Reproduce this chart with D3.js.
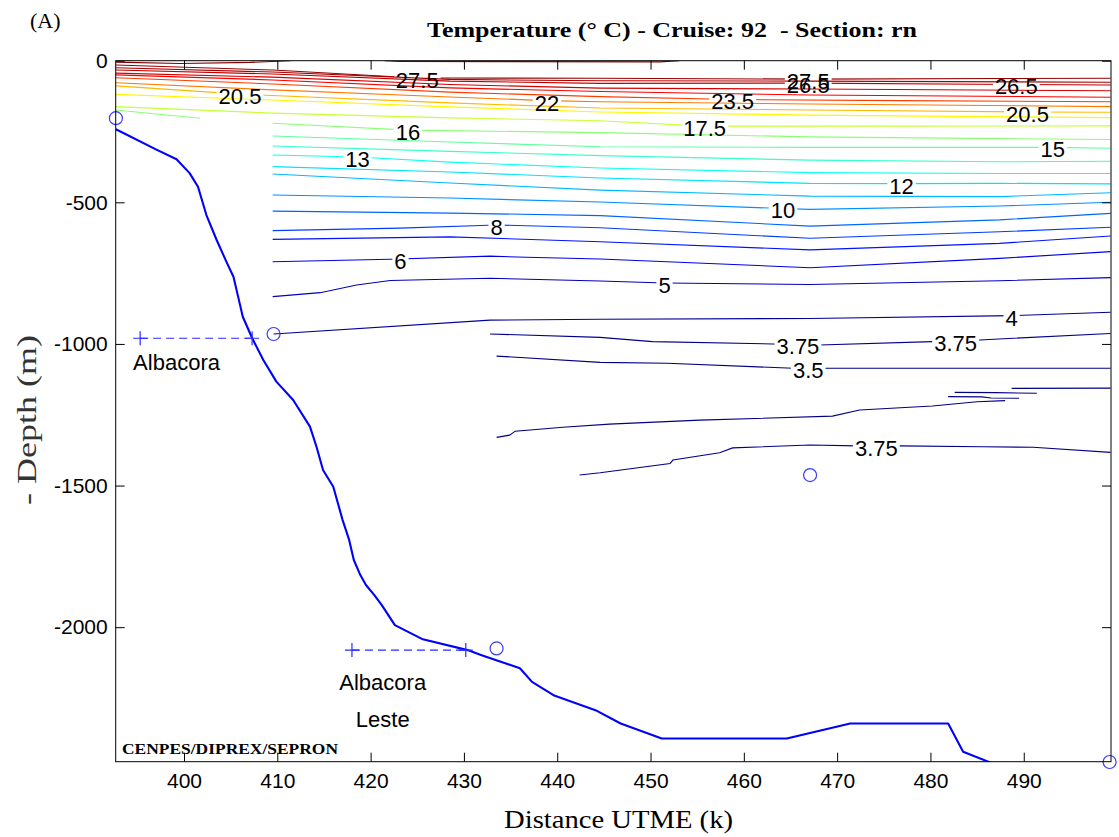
<!DOCTYPE html>
<html>
<head>
<meta charset="utf-8">
<script src="https://cdn.jsdelivr.net/npm/d3@7"></script>
<style>
  body { margin: 0; background: #fff; }
  svg { display: block; }
  text { white-space: pre; }
</style>
</head>
<body>
<svg id="chart" width="1119" height="837"></svg>
<script>
// ---- axis values ----
const xDomain = [392.68, 499.35];          // distance UTME (km)
const yDomain = [0, -2475];                // depth (m)
const xTicks = [400, 410, 420, 430, 440, 450, 460, 470, 480, 490];
const yTicks = [0, -500, -1000, -1500, -2000];
const tempRange = [3.5, 28];               // colour limits (deg C)

// ---- isotherms: t = temperature, pts = [km, depth], at = label positions (km) ----
const surfaceLines = [
  { t: 28,   pts: [[392.7, -5], [399.6, -10], [407.1, -6], [411.4, 0]] },
  { t: 28,   pts: [[421.5, 0], [423.1, -3], [451.0, -4], [453.1, 0]] },
  { t: 27.5, pts: [[392.7, -15], [409.5, -33], [425.0, -61], [444.6, -62], [466.9, -65], [487.4, -63], [499.3, -62]], at: [425.0, 466.9] },
  { t: 27,   pts: [[392.7, -25], [409.5, -40], [428.5, -66], [444.6, -71], [467.1, -72], [499.3, -76]] },
  { t: 26.5, pts: [[392.7, -33], [409.5, -47], [428.5, -72], [444.6, -80], [466.9, -79], [489.2, -84], [499.3, -86]], at: [466.9, 489.2] },
  { t: 26,   pts: [[392.7, -44], [409.5, -58], [428.5, -84], [444.6, -97], [467.1, -100], [499.3, -106]] },
  { t: 25,   pts: [[392.7, -50], [409.5, -68], [428.5, -96], [444.6, -109], [467.1, -121], [499.3, -129]] },
  { t: 23.5, pts: [[392.7, -60], [409.5, -82], [428.5, -111], [444.6, -127], [458.8, -137], [476.7, -141], [499.3, -145]], at: [458.8] },
  { t: 22,   pts: [[392.7, -78], [409.5, -103], [428.5, -128], [438.9, -141], [444.6, -145], [467.1, -153], [499.3, -162]], at: [438.9] },
  { t: 20.5, pts: [[392.7, -89], [406.0, -118], [428.5, -149], [444.6, -167], [467.1, -174], [490.4, -181], [499.3, -182]], at: [406.0, 490.4] },
  { t: 19,   pts: [[392.7, -119], [409.5, -139], [428.5, -163], [444.6, -181], [467.1, -192], [499.3, -201]] },
  { t: 17.5, pts: [[392.7, -162], [409.5, -185], [428.5, -202], [444.6, -212], [455.8, -231], [476.7, -231], [499.3, -230]], at: [455.8] },
  { t: 16,   pts: [[392.7, -174], [401.7, -203]] }
];

const thermoclineLines = [
  { t: 16, pts: [[409.5, -221], [424.0, -245], [444.6, -254], [467.1, -269], [487.4, -275], [499.3, -278]], at: [424.0] },
  { t: 15, pts: [[409.5, -266], [428.5, -287], [444.6, -304], [467.1, -306], [493.1, -306], [499.3, -309]], at: [493.1] },
  { t: 14, pts: [[409.5, -301], [428.5, -320], [444.6, -335], [467.1, -351], [487.4, -357], [499.3, -355]] },
  { t: 13, pts: [[409.5, -333], [418.6, -340], [428.5, -358], [444.6, -379], [467.1, -395], [487.4, -398], [499.3, -398]], at: [418.6] },
  { t: 12, pts: [[409.5, -374], [428.5, -393], [444.6, -414], [467.1, -433], [476.9, -434], [487.4, -433], [499.3, -435]], at: [476.9] },
  { t: 11, pts: [[409.5, -400], [428.5, -432], [444.6, -457], [467.1, -478], [487.4, -480], [499.3, -466]] },
  { t: 10, pts: [[409.5, -474], [428.5, -485], [444.6, -499], [464.2, -522], [467.1, -525], [487.4, -513], [499.3, -500]], at: [464.2] },
  { t: 9,  pts: [[409.5, -531], [428.5, -538], [444.6, -547], [467.1, -584], [487.4, -562], [499.3, -539]] },
  { t: 8,  pts: [[409.5, -600], [423.1, -591], [433.5, -580], [444.6, -590], [467.1, -627], [487.4, -604], [499.3, -588]], at: [433.5] },
  { t: 7,  pts: [[409.5, -631], [428.5, -622], [444.6, -639], [467.1, -668], [487.4, -645], [499.3, -619]] },
  { t: 6,  pts: [[409.5, -710], [422.1, -701], [432.8, -690], [436.7, -694], [444.6, -700], [467.1, -731], [487.4, -698], [499.3, -674]], at: [423.2] },
  { t: 5,  pts: [[409.5, -833], [414.6, -819], [418.5, -792], [422.1, -776], [432.8, -768], [444.6, -778], [451.5, -785], [467.1, -790], [487.4, -777], [499.3, -766]], at: [451.5] },
  { t: 4,  pts: [[409.6, -965], [432.8, -916], [444.6, -913], [467.1, -910], [488.7, -900], [499.3, -888]], at: [488.7] }
];

const deepLines = [
  { t: 3.75, pts: [[432.8, -965], [444.6, -977], [450.2, -992], [463.1, -1000], [468.1, -1004], [480.2, -992], [485.3, -986], [499.3, -963]], at: [465.8, 482.7] },
  { t: 3.5,  pts: [[433.5, -1043], [444.6, -1065], [451.8, -1068], [465.3, -1086], [499.3, -1086]], at: [466.9] },
  { t: 3.5,  pts: [[488.7, -1157], [499.3, -1156]] },
  { t: 3.5,  pts: [[482.6, -1171], [487.0, -1172], [491.4, -1174]] },
  { t: 3.5,  pts: [[481.9, -1186], [485.5, -1187], [486.5, -1191], [489.5, -1192]] },
  { t: 3.5,  pts: [[433.5, -1330], [434.9, -1322], [435.5, -1308], [440.6, -1294], [445.6, -1283], [455.3, -1269], [469.5, -1255], [472.4, -1233], [480.2, -1219], [485.0, -1204], [488.0, -1200]] },
  { t: 3.75, pts: [[442.4, -1463], [444.6, -1455], [452.1, -1422], [452.4, -1410], [457.4, -1384], [458.8, -1367], [467.1, -1357], [472.1, -1360], [476.7, -1360], [485.6, -1363], [491.0, -1365], [499.3, -1383]], at: [474.2] }
];

// ---- sea floor profile ----
const seaFloor = [
  [392.7, -242], [397.1, -315], [399.2, -348], [400.6, -397], [401.5, -445], [402.4, -545],
  [403.5, -633], [404.6, -714], [405.3, -763], [405.8, -833], [406.3, -904], [407.3, -979],
  [408.5, -1057], [409.9, -1133], [411.7, -1198], [413.5, -1292], [414.2, -1363], [414.9, -1445],
  [416.0, -1504], [417.0, -1622], [417.7, -1692], [418.2, -1763], [418.9, -1816], [419.5, -1851],
  [420.4, -1887], [421.2, -1922], [422.6, -1993], [425.6, -2043], [430.4, -2081], [431.9, -2099],
  [436.0, -2145], [437.3, -2193], [439.6, -2240], [444.1, -2293], [446.8, -2340], [451.2, -2393],
  [464.6, -2393], [471.4, -2340], [481.9, -2340], [483.5, -2440], [486.2, -2475], [487.4, -2490]
];

// ---- CTD stations (last sampled depth) ----
const stations = [[392.7, -203], [409.6, -965], [433.5, -2075], [467.1, -1463], [499.2, -2476]];

// ---- oil fields projected on the section ----
const fieldNames = [["Albacora"], ["Albacora", "Leste"]];
const fieldSpans = [
  [[395.3, -980], [407.3, -980]],
  [[418.0, -2081], [430.2, -2081]]
];
const fieldLabelX = [399.2, 421.3];

// ---------------------------------------------------------------
const W = 1119, H = 837;
const plot = { left: 115.7, right: 1111, top: 60.7, bottom: 761.7 };
const svg = d3.select("#chart");

const x = d3.scaleLinear().domain(xDomain).range([plot.left, plot.right]);
const y = d3.scaleLinear().domain(yDomain).range([plot.top, plot.bottom]);

// MATLAB-style "jet" colormap
function jet(t) {
  const c = v => Math.max(0, Math.min(1, v));
  const r = c(1.5 - Math.abs(4 * t - 3));
  const g = c(1.5 - Math.abs(4 * t - 2));
  const b = c(1.5 - Math.abs(4 * t - 1));
  return d3.rgb(r * 255, g * 255, b * 255).formatHex();
}
const color = v => jet((v - tempRange[0]) / (tempRange[1] - tempRange[0]));

const defs = svg.append("defs");
defs.append("clipPath").attr("id", "plotClip")
  .append("rect")
  .attr("x", plot.left).attr("y", plot.top)
  .attr("width", plot.right - plot.left).attr("height", plot.bottom - plot.top);

const contourG = svg.append("g").attr("clip-path", "url(#plotClip)");
const floorG = svg.append("g").attr("clip-path", "url(#plotClip)");
const labelG = svg.append("g")
  .attr("font-family", "'Liberation Sans', Arial, sans-serif")
  .attr("font-size", 22)
  .attr("fill", "#000");

const line = d3.line().x(d => x(d[0])).y(d => y(d[1]));

function depthAt(pts, xv) {
  for (let i = 0; i < pts.length - 1; i++) {
    const [x0, d0] = pts[i], [x1, d1] = pts[i + 1];
    if (xv >= Math.min(x0, x1) && xv <= Math.max(x0, x1)) {
      return x1 === x0 ? d0 : d0 + (d1 - d0) * (xv - x0) / (x1 - x0);
    }
  }
  return pts[pts.length - 1][1];
}

// isotherms with inline labels (line broken under each label)
const allLines = surfaceLines.concat(thermoclineLines, deepLines);
allLines.forEach((c, i) => {
  const boxes = [];
  (c.at || []).forEach(xv => {
    const t = labelG.append("text")
      .attr("x", x(xv))
      .attr("y", y(depthAt(c.pts, xv)) + 2)
      .attr("dy", "0.36em")
      .attr("text-anchor", "middle")
      .text(String(c.t));
    boxes.push(t.node().getBBox());
  });
  const p = contourG.append("path")
    .attr("d", line(c.pts))
    .attr("fill", "none")
    .attr("stroke", color(c.t))
    .attr("stroke-width", 1.1);
  if (boxes.length) {
    const m = defs.append("mask").attr("id", "lblMask" + i)
      .attr("maskUnits", "userSpaceOnUse")
      .attr("x", 0).attr("y", 0).attr("width", W).attr("height", H);
    m.append("rect").attr("x", 0).attr("y", 0).attr("width", W).attr("height", H).attr("fill", "#fff");
    boxes.forEach(b => m.append("rect")
      .attr("x", b.x - 2).attr("y", b.y + b.height * 0.15)
      .attr("width", b.width + 4).attr("height", b.height * 0.7)
      .attr("fill", "#000"));
    p.attr("mask", `url(#lblMask${i})`);
  }
});

// sea floor
floorG.append("path")
  .attr("d", line(seaFloor))
  .attr("fill", "none")
  .attr("stroke", "#0000ff")
  .attr("stroke-width", 2.1)
  .attr("stroke-linejoin", "round");

// oil field markers
fieldSpans.forEach((span, k) => {
  svg.append("path")
    .attr("d", line(span))
    .attr("fill", "none")
    .attr("stroke", "#2a2aff")
    .attr("stroke-width", 1.2)
    .attr("stroke-dasharray", "8,5");
  span.forEach(pt => {
    const cx = x(pt[0]), cy = y(pt[1]);
    svg.append("path")
      .attr("d", `M${cx - 7},${cy}h14M${cx},${cy - 7}v14`)
      .attr("stroke", "#2a2aff")
      .attr("stroke-width", 1.2);
  });
  const lx = x(fieldLabelX[k]), ly = y(span[0][1]);
  fieldNames[k].forEach((name, j) => {
    labelG.append("text")
      .attr("x", lx)
      .attr("y", ly + (k === 0 ? 32 : 40) + j * 37)
      .attr("text-anchor", "middle")
      .text(name);
  });
});

// stations
svg.append("g").selectAll("circle").data(stations).join("circle")
  .attr("cx", d => x(d[0]))
  .attr("cy", d => y(d[1]))
  .attr("r", 6.5)
  .attr("fill", "none")
  .attr("stroke", "#3a3aff")
  .attr("stroke-width", 1.2);

// axes (ticks point inward)
const tickFont = g => g.attr("font-family", "'Liberation Sans', Arial, sans-serif")
  .attr("font-size", 21)
  .call(s => s.select(".domain").remove())
  .call(s => s.selectAll("line").attr("stroke", "#000"))
  .call(s => s.selectAll("text").attr("fill", "#000"));

svg.append("g").attr("transform", `translate(0,${plot.bottom})`)
  .call(d3.axisBottom(x).tickValues(xTicks).tickSizeInner(-9).tickSizeOuter(0).tickPadding(11).tickFormat(d => String(d)))
  .call(tickFont);
svg.append("g").attr("transform", `translate(0,${plot.top})`)
  .call(d3.axisTop(x).tickValues(xTicks).tickSizeInner(-9).tickSizeOuter(0).tickFormat(""))
  .call(tickFont);
svg.append("g").attr("transform", `translate(${plot.left},0)`)
  .call(d3.axisLeft(y).tickValues(yTicks).tickSizeInner(-9).tickSizeOuter(0).tickPadding(8).tickFormat(d => String(d)))
  .call(tickFont);
svg.append("g").attr("transform", `translate(${plot.right},0)`)
  .call(d3.axisRight(y).tickValues(yTicks).tickSizeInner(-9).tickSizeOuter(0).tickFormat(""))
  .call(tickFont);

// frame
svg.append("rect")
  .attr("x", plot.left).attr("y", plot.top)
  .attr("width", plot.right - plot.left).attr("height", plot.bottom - plot.top)
  .attr("fill", "none").attr("stroke", "#000").attr("stroke-width", 1);

// titles
const serif = "'Liberation Serif', 'Times New Roman', serif";
svg.append("text")
  .attr("x", 30).attr("y", 28)
  .attr("font-family", serif).attr("font-size", 22)
  .text("(A)");
svg.append("text")
  .attr("x", 427).attr("y", 37)
  .attr("font-family", serif).attr("font-size", 22).attr("font-weight", "bold")
  .attr("textLength", 490).attr("lengthAdjust", "spacingAndGlyphs")
  .text("Temperature (° C) - Cruise: 92  - Section: rn");
svg.append("text")
  .attr("x", 504).attr("y", 828)
  .attr("font-family", serif).attr("font-size", 25)
  .attr("textLength", 229).attr("lengthAdjust", "spacingAndGlyphs")
  .text("Distance UTME (k)");
svg.append("text")
  .attr("transform", "translate(36,420) rotate(-90)")
  .attr("text-anchor", "middle")
  .attr("font-family", serif).attr("font-size", 27)
  .attr("fill", "#333")
  .attr("textLength", 170).attr("lengthAdjust", "spacingAndGlyphs")
  .text("- Depth (m)");
svg.append("text")
  .attr("x", 122).attr("y", 754)
  .attr("font-family", serif).attr("font-size", 14).attr("font-weight", "bold")
  .attr("textLength", 216).attr("lengthAdjust", "spacingAndGlyphs")
  .text("CENPES/DIPREX/SEPRON");
</script>
</body>
</html>
